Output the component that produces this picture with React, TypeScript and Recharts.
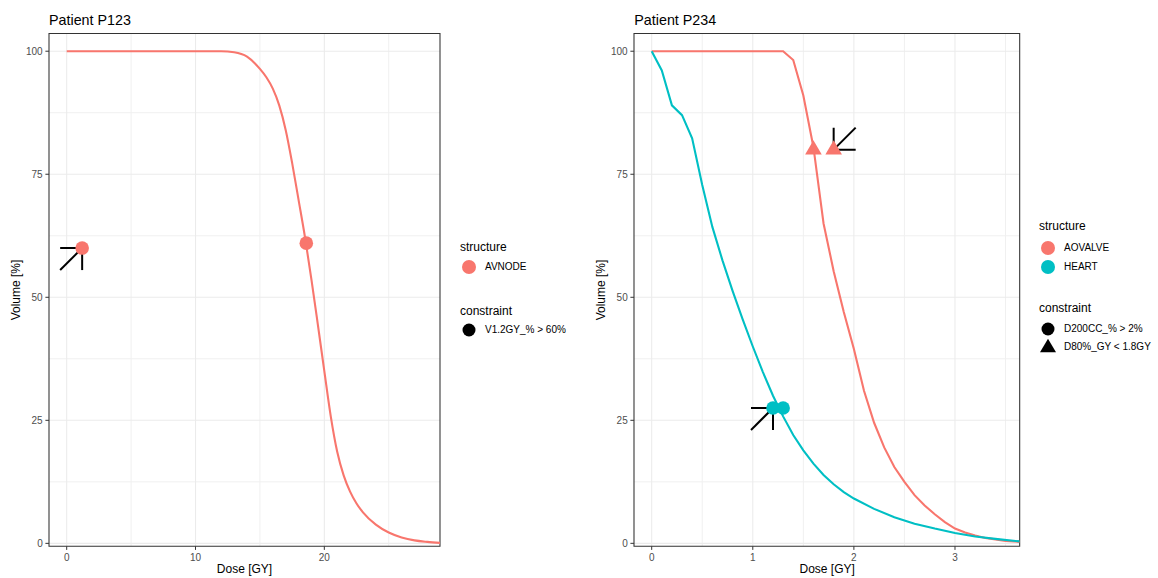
import React from 'react';
import { ComposedChart, Line, Scatter, XAxis, YAxis, CartesianGrid, ReferenceArea } from 'recharts';

const FONT = '"Liberation Sans", Arial, Helvetica, sans-serif';
const RED = '#F8766D';
const TEAL = '#00BFC4';

// Patient P123 - AVNODE DVH
const avnodeDose = [0, 12, 13, 14, 15, 15.5, 16, 16.5, 17, 17.5, 18, 18.5, 19, 19.5, 20, 20.5, 21, 21.5, 22, 22.5, 23, 24, 25, 26, 27, 28, 29];
const avnodeVolume = [100, 100, 99.8, 98.9, 96.4, 94.7, 92.4, 89, 84, 77.3, 69.8, 62.2, 53.6, 44.4, 35, 25.8, 18.6, 13.8, 10.5, 8.1, 6.3, 3.8, 2.2, 1.2, 0.6, 0.3, 0.1];

// Patient P234 - AOVALVE + HEART DVH
const aovalveDose = [0, 1.3, 1.4, 1.5, 1.6, 1.7, 1.8, 1.9, 2.0, 2.1, 2.2, 2.3, 2.4, 2.5, 2.6, 2.7, 2.8, 2.9, 3.0, 3.1, 3.2, 3.3, 3.4, 3.5, 3.64];
const aovalveVolume = [100, 100, 98.2, 91, 80.5, 65, 55.3, 47, 39.5, 31, 24.5, 19.5, 15.5, 12.5, 9.8, 7.7, 5.9, 4.3, 3.0, 2.2, 1.6, 1.1, 0.8, 0.5, 0.3];
const heartDose = [0, 0.1, 0.2, 0.3, 0.4, 0.5, 0.6, 0.7, 0.8, 0.9, 1.0, 1.1, 1.2, 1.3, 1.4, 1.5, 1.6, 1.7, 1.8, 1.9, 2.0, 2.2, 2.4, 2.6, 2.8, 3.0, 3.2, 3.4, 3.64];
const heartVolume = [100, 96.1, 89, 87, 82.3, 72.8, 64.3, 57.5, 51.3, 45.5, 40, 34.8, 30, 25.8, 22, 18.9, 16.2, 13.9, 12, 10.4, 9.1, 7, 5.3, 4, 3, 2.1, 1.4, 0.9, 0.4];

// constraint points (flagged = arrow drawn at it)
const p123AvnodePoints = [
  { dose: 1.2, volume: 60, flagged: true },
  { dose: 18.6, volume: 61, flagged: false },
];
const p234AovalvePoints = [
  { dose: 1.6, volume: 80, flagged: false },
  { dose: 1.8, volume: 80, flagged: true },
];
const p234HeartPoints = [
  { dose: 1.2, volume: 27.5, flagged: true },
  { dose: 1.3, volume: 27.5, flagged: false },
];

const volumeTicks = [0, 25, 50, 75, 100];
const volumeMinor = [12.5, 37.5, 62.5, 87.5];
const p123DoseTicks = [0, 10, 20];
const p123DoseMinor = [5, 15, 25];
const p234DoseTicks = [0, 1, 2, 3];
const p234DoseMinor = [0.5, 1.5, 2.5, 3.5];

const p123Structures = ['AVNODE'];
const p123Constraints = ['V1.2GY_% > 60%'];
const p234Structures = ['AOVALVE', 'HEART'];
const p234Constraints = ['D200CC_% > 2%', 'D80%_GY < 1.8GY'];

const toRows = (dose: number[], vol: number[]) => dose.map((d, i) => ({ dose: d, volume: vol[i] }));

const yDomain: [number, number] = [-0.6, 103.6];

const circleShape = (color: string) => (p: any) => <circle cx={p.cx} cy={p.cy} r={6.8} fill={color} />;
const triangleShape = (color: string) => (p: any) => (
  <polygon
    points={`${p.cx},${p.cy - 9.5} ${p.cx - 8.3},${p.cy + 4.8} ${p.cx + 8.3},${p.cy + 4.8}`}
    fill={color}
  />
);
// arrow tip sits on the point; 'ne' comes from lower-left, 'sw' from upper-right
const arrowShape = (dir: 'ne' | 'sw') => (p: any) => {
  const s = dir === 'ne' ? 1 : -1;
  const L = 22;
  const tx = p.cx - s * L;
  const ty = p.cy + s * L;
  return (
    <g stroke="#000" strokeWidth={2}>
      <line x1={tx} y1={ty} x2={p.cx} y2={p.cy} />
      <line x1={tx} y1={p.cy} x2={p.cx} y2={p.cy} />
      <line x1={p.cx} y1={ty} x2={p.cx} y2={p.cy} />
    </g>
  );
};

interface MarkSet {
  color: string;
  shape: 'circle' | 'triangle';
  arrow: 'ne' | 'sw';
  points: { dose: number; volume: number; flagged: boolean }[];
}

interface PanelProps {
  left: number;
  width: number;
  title: string;
  xDomain: [number, number];
  xTicks: number[];
  xMinor: number[];
  series: { color: string; curve: 'linear' | 'monotone'; rows: { dose: number; volume: number }[] }[];
  marks: MarkSet[];
}

const Panel = ({ left, width, title, xDomain, xTicks, xMinor, series, marks }: PanelProps) => {
  const plotLeft = left + 49;
  const plotRight = left + width - 10;
  return (
    <>
      <div style={{ position: 'absolute', left: plotLeft, top: 12.5, fontSize: 14.3, lineHeight: '14px', color: '#000', whiteSpace: 'nowrap' }}>{title}</div>
      <div
        style={{
          position: 'absolute', left: left + 16, top: 290, fontSize: 12, lineHeight: '12px', whiteSpace: 'nowrap',
          transform: 'translate(-50%, -50%) rotate(-90deg)',
        }}
      >
        Volume [%]
      </div>
      <div
        style={{
          position: 'absolute', left: (plotLeft + plotRight) / 2, top: 563.1, fontSize: 12, lineHeight: '12px',
          whiteSpace: 'nowrap', transform: 'translateX(-50%)',
        }}
      >
        Dose [GY]
      </div>
      <div style={{ position: 'absolute', left, top: 0 }}>
        <ComposedChart width={width} height={578} margin={{ top: 33.5, right: 10, bottom: 0, left: 19 }}>
          <CartesianGrid stroke="#F0F0F0" strokeWidth={1} verticalValues={xMinor} horizontalValues={volumeMinor} />
          <CartesianGrid stroke="#EBEBEB" strokeWidth={1.07} verticalValues={xTicks} horizontalValues={volumeTicks} />
          <XAxis
            type="number" dataKey="dose" domain={xDomain} ticks={xTicks} allowDataOverflow interval={0}
            height={31.7} tickSize={3.6} tickMargin={3.6} axisLine={false}
            tickLine={{ stroke: '#333333' }}
            tick={{ fill: '#4D4D4D', fontSize: 10, fontFamily: FONT }}
          />
          <YAxis
            type="number" dataKey="volume" domain={yDomain} ticks={volumeTicks} allowDataOverflow interval={0}
            width={30} tickSize={3.6} tickMargin={2.7} axisLine={false}
            tickLine={{ stroke: '#333333' }}
            tick={{ fill: '#4D4D4D', fontSize: 10, fontFamily: FONT }}
          />
          <ReferenceArea
            x1={xDomain[0]} x2={xDomain[1]} y1={yDomain[0]} y2={yDomain[1]}
            fill="none" stroke="#333333" strokeWidth={1.07} ifOverflow="visible"
          />
          {series.map((s, i) => (
            <Line
              key={i} data={s.rows} dataKey="volume" type={s.curve} stroke={s.color} strokeWidth={2.1}
              dot={false} activeDot={false} isAnimationActive={false}
            />
          ))}
          {marks.map((m, i) => (
            <Scatter
              key={'a' + i} data={m.points.filter(p => p.flagged)} dataKey="volume"
              shape={arrowShape(m.arrow)} isAnimationActive={false}
            />
          ))}
          {marks.map((m, i) => (
            <Scatter
              key={'m' + i} data={m.points} dataKey="volume" fill={m.color}
              shape={m.shape === 'triangle' ? triangleShape(m.color) : circleShape(m.color)}
              isAnimationActive={false}
            />
          ))}
        </ComposedChart>
      </div>
    </>
  );
};

const Key = ({ shape, color, r }: { shape: 'circle' | 'triangle'; color: string; r: number }) => (
  <svg width={18} height={18} style={{ display: 'block' }}>
    {shape === 'triangle' ? (
      <polygon points="9,0.8 1,14.3 17,14.3" fill={color} />
    ) : (
      <circle cx={9} cy={9} r={r} fill={color} />
    )}
  </svg>
);

const LegendRow = ({ x, cy, label, children }: { x: number; cy: number; label: string; children: React.ReactNode }) => (
  <div style={{ position: 'absolute', left: x, top: cy - 9, height: 18, display: 'flex', alignItems: 'center' }}>
    <div style={{ width: 18 }}>{children}</div>
    <span style={{ marginLeft: 7, fontSize: 10, lineHeight: '10px', whiteSpace: 'nowrap' }}>{label}</span>
  </div>
);

const LegendTitle = ({ x, top, text }: { x: number; top: number; text: string }) => (
  <div style={{ position: 'absolute', left: x, top, fontSize: 12, lineHeight: '12px' }}>{text}</div>
);

export default function App() {
  const structColors = [RED, TEAL];
  const p234Shapes: ('circle' | 'triangle')[] = ['circle', 'triangle'];
  return (
    <div style={{ position: 'absolute', left: 0, top: 0, width: 1158, height: 578, background: '#fff', fontFamily: FONT, color: '#000' }}>
      <Panel
        left={0} width={450} title="Patient P123"
        xDomain={[-1.374, 28.98]} xTicks={p123DoseTicks} xMinor={p123DoseMinor}
        series={[{ color: RED, curve: 'monotone', rows: toRows(avnodeDose, avnodeVolume) }]}
        marks={[{ color: RED, shape: 'circle', arrow: 'ne', points: p123AvnodePoints }]}
      />
      <Panel
        left={585.3} width={444.7} title="Patient P234"
        xDomain={[-0.175, 3.64]} xTicks={p234DoseTicks} xMinor={p234DoseMinor}
        series={[
          { color: RED, curve: 'linear', rows: toRows(aovalveDose, aovalveVolume) },
          { color: TEAL, curve: 'linear', rows: toRows(heartDose, heartVolume) },
        ]}
        marks={[
          { color: RED, shape: 'triangle', arrow: 'sw', points: p234AovalvePoints },
          { color: TEAL, shape: 'circle', arrow: 'ne', points: p234HeartPoints },
        ]}
      />

      {/* P123 legend */}
      <LegendTitle x={460} top={241} text="structure" />
      {p123Structures.map((s, i) => (
        <LegendRow key={s} x={460} cy={267.3 + i * 19.6} label={s}>
          <Key shape="circle" color={structColors[i]} r={7} />
        </LegendRow>
      ))}
      <LegendTitle x={460} top={304.5} text="constraint" />
      {p123Constraints.map((c, i) => (
        <LegendRow key={c} x={460} cy={330 + i * 17.7} label={c}>
          <Key shape="circle" color="#000" r={6.5} />
        </LegendRow>
      ))}

      {/* P234 legend */}
      <LegendTitle x={1039} top={219.5} text="structure" />
      {p234Structures.map((s, i) => (
        <LegendRow key={s} x={1039} cy={247.7 + i * 19.6} label={s}>
          <Key shape="circle" color={structColors[i]} r={7} />
        </LegendRow>
      ))}
      <LegendTitle x={1039} top={302} text="constraint" />
      {p234Constraints.map((c, i) => (
        <LegendRow key={c} x={1039} cy={329 + i * 17.7} label={c}>
          <Key shape={p234Shapes[i]} color="#000" r={6.5} />
        </LegendRow>
      ))}
    </div>
  );
}
